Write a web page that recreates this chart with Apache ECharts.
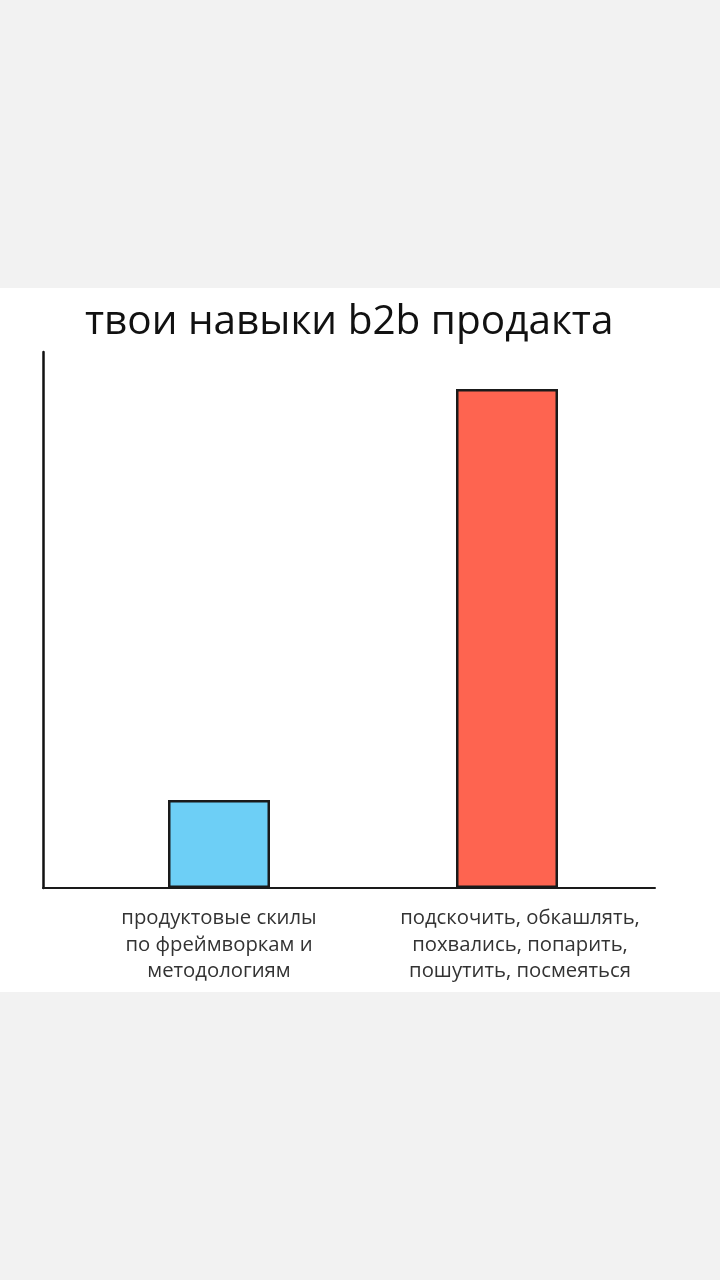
<!DOCTYPE html>
<html><head><meta charset="utf-8">
<script src="https://cdn.jsdelivr.net/npm/echarts@6/dist/echarts.min.js"></script>
<style>
html,body{margin:0;padding:0;background:#f2f2f2;width:720px;height:1280px;overflow:hidden}
#panel{position:absolute;left:0;top:288px;width:720px;height:704px;background:#fff}
#chart{width:720px;height:704px}
</style></head>
<body><div id="panel"><div id="chart"></div></div>
<script>
const titleText = 'твои навыки b2b продакта';
const categories = ['продуктовые скилы\nпо фреймворкам и\nметодологиям', 'подскочить, обкашлять,\nпохвались, попарить,\nпошутить, посмеяться'];
const values = [16.4, 93.1];
const barColors = ['#6dcff6', '#fe6450'];

const chart = echarts.init(document.getElementById('chart'), null, {renderer:'canvas'});
chart.setOption({
  backgroundColor: '#ffffff',
  animation: false,
  title: {
    text: titleText, left: 80, top: 9,
    textStyle: {fontFamily: 'Open Sans', fontSize: 40.5, fontWeight: 'normal', color: '#111'}
  },
  grid: [
    {left: 43, width: 612, top: 64, height: 536},
    {left: 75, width: 576, top: 64, height: 536}
  ],
  xAxis: [
    {gridIndex: 0, type: 'category', data: ['', ''], axisLine: {lineStyle: {color: '#1a1a1a', width: 2}},
     axisTick: {show: false}, axisLabel: {show: false}},
    {gridIndex: 1, type: 'category', data: categories, axisLine: {show: false}, axisTick: {show: false},
     axisLabel: {
       margin: 17, fontFamily: 'Open Sans', fontSize: 20.3, lineHeight: 26.5, color: '#333', interval: 0,
       formatter: (v, i) => i === 1 ? '{r|' + v.split('\n').join('}\n{r|') + '}' : v,
       rich: {r: {fontFamily: 'Open Sans', fontSize: 20.3, lineHeight: 26.5, color: '#333', padding: [0, 0, 0, 26]}}
     }}
  ],
  yAxis: [
    {gridIndex: 0, type: 'value', min: 0, max: 100, axisLine: {show: true, lineStyle: {color: '#111', width: 2.5}},
     axisTick: {show: false}, axisLabel: {show: false}, splitLine: {show: false}},
    {gridIndex: 1, type: 'value', min: 0, max: 100, show: false, splitLine: {show: false}}
  ],
  series: [{
    type: 'bar', xAxisIndex: 1, yAxisIndex: 1, barWidth: 102,
    data: values.map((v, i) => ({value: v, itemStyle: {color: barColors[i]}})),
    itemStyle: {borderColor: '#1a1a1a', borderWidth: 2.5}
  }]
});
</script></body></html>
